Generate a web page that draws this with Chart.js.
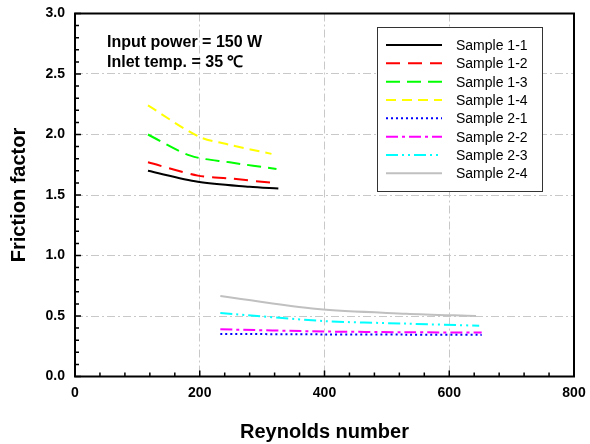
<!DOCTYPE html>
<html>
<head>
<meta charset="utf-8">
<script src="https://cdn.jsdelivr.net/npm/chart.js@4/dist/chart.umd.min.js"></script>
<style>
  html, body { margin: 0; padding: 0; background: #fff; }
  #wrap { width: 590px; height: 444px; }
</style>
</head>
<body>
<div id="wrap"><canvas id="frictionChart" width="590" height="444"></canvas></div>
<script>
// Reynolds number / friction factor pairs
const sampleNames = ['Sample 1-1', 'Sample 1-2', 'Sample 1-3', 'Sample 1-4',
                     'Sample 2-1', 'Sample 2-2', 'Sample 2-3', 'Sample 2-4'];

const re11 = [117, 197, 280, 326];
const f11  = [1.70, 1.61, 1.568, 1.553];
const re12 = [117, 197, 248, 317];
const f12  = [1.77, 1.66, 1.637, 1.60];
const re13 = [117, 185, 248, 323];
const f13  = [2.00, 1.825, 1.77, 1.715];
const re14 = [117, 198, 248, 315];
const f14  = [2.24, 1.984, 1.915, 1.84];
const re21 = [233, 400, 530, 652];
const f21  = [0.352, 0.348, 0.346, 0.344];
const re22 = [233, 400, 530, 652];
const f22  = [0.39, 0.372, 0.366, 0.363];
const re23 = [233, 397, 530, 648];
const f23  = [0.525, 0.459, 0.437, 0.42];
const re24 = [233, 389, 531, 643];
const f24  = [0.666, 0.557, 0.519, 0.50];

const xTicks = [0, 200, 400, 600, 800];
const yTicks = [0.0, 0.5, 1.0, 1.5, 2.0, 2.5, 3.0];
const noteLines = ['Input power = 150 W', 'Inlet temp. = 35 \u2103'];

const reSets = [re11, re12, re13, re14, re21, re22, re23, re24];
const fSets = [f11, f12, f13, f14, f21, f22, f23, f24];
const colors = ['#000000', '#ff0000', '#00ff00', '#ffff00', '#0000ff', '#ff00ff', '#00ffff', '#c0c0c0'];
const dashes = [[], [14, 8], [14, 7], [10, 6], [2, 3], [12, 4, 3, 4], [12, 4, 2, 4, 2, 4], []];

const datasets = sampleNames.map((name, i) => ({
  label: name,
  data: reSets[i].map((x, j) => ({ x: x, y: fSets[i][j] })),
  borderColor: colors[i],
  borderDash: dashes[i],
  borderWidth: 2,
  pointRadius: 0,
  showLine: true,
  fill: false,
  tension: 0.3
}));

// frame, inward ticks, note text and the boxed legend
const decorations = {
  id: 'decorations',
  afterDraw(chart) {
    const { ctx, chartArea: a, scales: { x, y } } = chart;
    ctx.save();
    ctx.strokeStyle = '#000';
    ctx.lineWidth = 1.5;
    ctx.beginPath();
    for (let v = 0; v <= 800; v += 40) {
      const px = x.getPixelForValue(v);
      const len = v % 200 === 0 ? 6 : 4;
      ctx.moveTo(px, a.bottom); ctx.lineTo(px, a.bottom - len);
    }
    for (let k = 0; k <= 30; k++) {
      const py = y.getPixelForValue(k / 10);
      const len = k % 5 === 0 ? 6 : 4;
      ctx.moveTo(a.left, py); ctx.lineTo(a.left + len, py);
    }
    ctx.stroke();
    ctx.lineWidth = 2;
    ctx.strokeRect(a.left, a.top, a.right - a.left, a.bottom - a.top);

    // note
    ctx.fillStyle = '#000';
    ctx.font = 'bold 16px "Liberation Sans", Arial, sans-serif';
    ctx.textBaseline = 'middle';
    ctx.textAlign = 'left';
    noteLines.forEach((t, i) => ctx.fillText(t, a.left + 32, a.top + 29 + i * 20));

    // legend
    const bx = 377, by = 27, bw = 165, bh = 164;
    ctx.fillStyle = '#fff';
    ctx.fillRect(bx, by, bw, bh);
    ctx.lineWidth = 1;
    ctx.strokeStyle = '#333';
    ctx.strokeRect(bx + 0.5, by + 0.5, bw, bh);
    ctx.font = '14px "Liberation Sans", Arial, sans-serif';
    chart.data.datasets.forEach((ds, i) => {
      const ry = 45 + i * 18.33;
      ctx.strokeStyle = ds.borderColor;
      ctx.lineWidth = 2;
      ctx.setLineDash(ds.borderDash);
      ctx.beginPath();
      ctx.moveTo(386, ry); ctx.lineTo(442, ry);
      ctx.stroke();
      ctx.setLineDash([]);
      ctx.fillStyle = '#000';
      ctx.fillText(ds.label, 456, ry + 1);
    });
    ctx.restore();
  }
};

const gridColor = '#c8c8c8';
new Chart(document.getElementById('frictionChart'), {
  type: 'scatter',
  data: { datasets: datasets },
  options: {
    responsive: false,
    animation: false,
    layout: { padding: { top: 13.5, right: 16, left: 0, bottom: 0 } },
    plugins: { legend: { display: false }, tooltip: { enabled: false } },
    scales: {
      x: {
        type: 'linear',
        min: xTicks[0],
        max: xTicks[xTicks.length - 1],
        afterBuildTicks: s => { s.ticks = xTicks.map(v => ({ value: v })); },
        afterFit: s => { s.height = 67.5; s.paddingLeft = 0; s.paddingRight = 0; },
        ticks: { color: '#000', padding: 8, font: { size: 14, weight: 'bold', family: '"Liberation Sans", Arial' } },
        grid: { color: gridColor, lineWidth: 1, drawTicks: false },
        border: { display: false, dash: [8, 3, 2, 3] },
        title: {
          display: true,
          text: 'Reynolds number',
          color: '#000',
          padding: { top: 0, bottom: 0 },
          font: { size: 20, weight: 'bold', family: '"Liberation Sans", Arial' }
        }
      },
      y: {
        min: yTicks[0],
        max: yTicks[yTicks.length - 1],
        afterBuildTicks: s => { s.ticks = yTicks.map(v => ({ value: v })); },
        afterFit: s => { s.width = 75; s.paddingTop = 0; s.paddingBottom = 0; },
        ticks: {
          color: '#000', padding: 10,
          callback: v => v.toFixed(1),
          font: { size: 14, weight: 'bold', family: '"Liberation Sans", Arial' }
        },
        grid: { color: gridColor, lineWidth: 1, drawTicks: false },
        border: { display: false, dash: [8, 3, 2, 3] },
        title: {
          display: true,
          text: 'Friction factor',
          color: '#000',
          padding: { top: 7, bottom: 0 },
          font: { size: 20, weight: 'bold', family: '"Liberation Sans", Arial' }
        }
      }
    }
  },
  plugins: [decorations]
});
</script>
</body>
</html>
